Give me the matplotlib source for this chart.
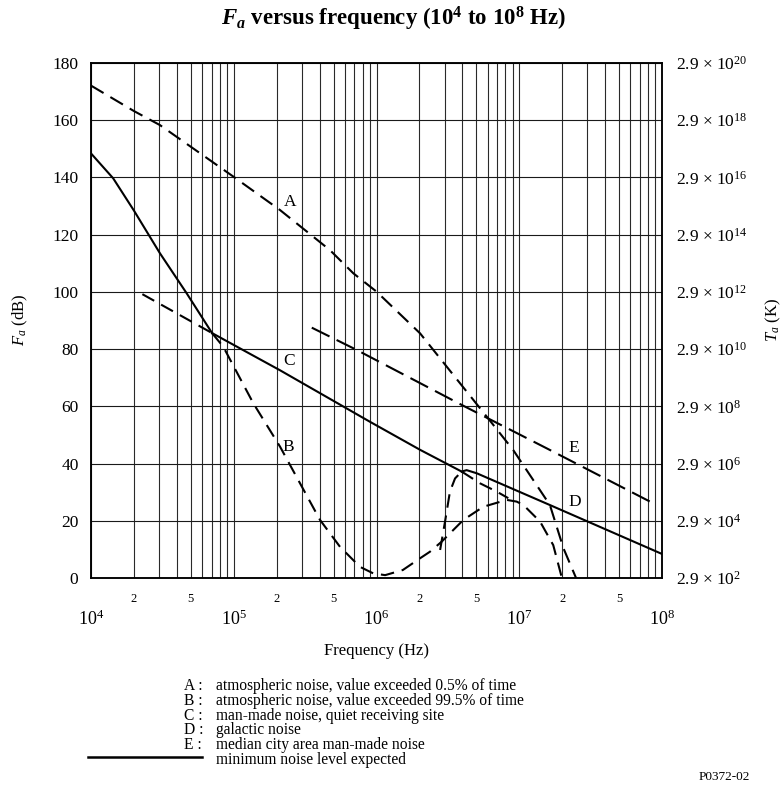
import matplotlib
matplotlib.use("Agg")
import matplotlib.pyplot as plt
from matplotlib.ticker import FixedLocator, FuncFormatter
from matplotlib.lines import Line2D

plt.rcParams['font.family'] = ['Liberation Serif', 'DejaVu Serif']
plt.rcParams['mathtext.fontset'] = 'custom'
plt.rcParams['mathtext.rm'] = 'Liberation Serif'
plt.rcParams['mathtext.it'] = 'Liberation Serif:italic'
plt.rcParams['mathtext.bf'] = 'Liberation Serif:bold'
try:
    plt.rcParams['mathtext.bfit'] = 'Liberation Serif:italic:bold'
except KeyError:
    pass
plt.rcParams['mathtext.fallback'] = 'stix'

# ---------------- data (frequency in Hz, Fa in dB) ----------------
# Curve A: atmospheric noise, 0.5 %
A_f = [1e4, 2.0e4, 3.04e4, 9.93e4, 2.11e5, 4.72e5, 6.88e5, 1.0e6, 2.02e6,
       3.10e6, 5.92e6, 9.08e6, 1.64e7, 2.04e7, 2.5e7]
A_F = [172.1, 163.2, 158.3, 140.3, 128.6, 114.6, 106.5, 100.1, 85.5,
       73.9, 56.4, 44.7, 25.5, 10.4, 0.0]

# Curve B: atmospheric noise, 99.5 % (solid part above C, dashed below)
B_solid_f = [1e4, 1.43e4, 2.0e4, 3.04e4, 4.68e4, 7.05e4]
B_solid_F = [148.4, 139.7, 128.4, 113.5, 99.5, 85.6]
B_dash_f = [7.05e4, 8.45e4, 1.37e5, 2.11e5, 4.02e5, 5.55e5, 7.66e5, 9.5e5,
            1.15e6, 1.53e6, 2.02e6, 2.37e6, 2.86e6, 4.06e6, 5.6e6, 8.17e6,
            9.6e6, 1.07e7, 1.40e7, 1.73e7, 1.99e7]
B_dash_F = [85.6, 80.8, 61.1, 45.9, 20.3, 10.9, 3.9, 1.6,
            1.0, 2.8, 6.9, 9.2, 12.7, 20.3, 24.9, 27.3,
            26.7, 25.5, 19.7, 11.5, 0.0]

# Curve C: man-made noise, quiet receiving site
C_low_f = [2.29e4, 7.05e4]
C_low_F = [99.2, 85.6]
C_solid_f = [7.05e4, 2.11e5, 9.0e5, 2.02e6, 3.95e6]
C_solid_F = [85.6, 72.6, 54.6, 44.8, 37.2]
C_high_f = [3.95e6, 5.31e6, 6.95e6, 8.38e6]
C_high_F = [37.2, 33.1, 30.2, 27.9]

# Curve D: galactic noise (dashed rise, then solid)
D_rise_f = [2.79e6, 3.02e6, 3.27e6, 3.55e6, 3.95e6]
D_rise_F = [9.8, 19.7, 30.2, 34.8, 37.2]
D_solid_f = [3.95e6, 4.28e6, 5.04e6, 1.64e7, 1e8]
D_solid_F = [37.2, 37.7, 36.6, 25.5, 8.4]

# Curve E: median city area man-made noise
E_f = [3.52e5, 7.27e5, 3.95e6, 1.56e7, 8.24e7]
E_F = [87.5, 79.7, 60.5, 45.3, 26.7]

# curve letters (freq, Fa)
labels = ['A', 'B', 'C', 'D', 'E']
label_f = [2.48e5, 2.41e5, 2.45e5, 2.46e7, 2.42e7]
label_F = [131.3, 45.9, 75.8, 26.7, 45.3]

yticks = list(range(0, 181, 20))
right_exp = [2, 4, 6, 8, 10, 12, 14, 16, 18, 20]
decades = [1e4, 1e5, 1e6, 1e7, 1e8]
dec_labels = [r'$10^{4}$', r'$10^{5}$', r'$10^{6}$', r'$10^{7}$', r'$10^{8}$']

legend_keys = ['A :', 'B :', 'C :', 'D :', 'E :']
legend_text = ['atmospheric noise, value exceeded 0.5% of time',
               'atmospheric noise, value exceeded 99.5% of time',
               'man-made noise, quiet receiving site',
               'galactic noise',
               'median city area man-made noise',
               'minimum noise level expected']

# ---------------- figure ----------------
W, H = 782, 786
fig = plt.figure(figsize=(W / 100, H / 100), dpi=100)
L, R, T, Bt = 91, 662, 63, 578
ax = fig.add_axes([L / W, 1 - Bt / H, (R - L) / W, (Bt - T) / H])
ax.set_xscale('log')
ax.set_xlim(1e4, 1e8)
ax.set_ylim(0, 180)

lw = 1.5
dashA = (7, 3.8)
dashB = (6.5, 3.8)
dashE = (9.5, 3.8)
ax.plot(A_f, A_F, color='black', lw=lw, dashes=dashA, zorder=3)
ax.plot(B_solid_f, B_solid_F, color='black', lw=lw, zorder=3)
ax.plot(B_dash_f, B_dash_F, color='black', lw=lw, dashes=dashB, zorder=3)
ax.plot(C_low_f, C_low_F, color='black', lw=lw, dashes=dashB, zorder=3)
ax.plot(C_solid_f, C_solid_F, color='black', lw=lw, zorder=3)
ax.plot(C_high_f, C_high_F, color='black', lw=lw, dashes=dashB, zorder=3)
ax.plot(D_rise_f, D_rise_F, color='black', lw=lw, dashes=dashB, zorder=3)
ax.plot(D_solid_f, D_solid_F, color='black', lw=lw, zorder=3,
        solid_joinstyle='round')
ax.plot(E_f, E_F, color='black', lw=lw, dashes=dashE, zorder=3)

for s, f, v in zip(labels, label_f, label_F):
    ax.text(f, v, s, fontsize=12.5, ha='center', va='center', zorder=4)


def minor_fmt(v, p):
    e = int(f'{v:e}'.split('e')[1])
    m = round(v / 10 ** e)
    return str(m) if m in (2, 5) else ''


ax.xaxis.set_major_locator(FixedLocator(decades))
minor = [m * d for d in decades[:-1] for m in range(2, 10)]
ax.xaxis.set_minor_locator(FixedLocator(minor))
ax.set_xticklabels(dec_labels)
ax.xaxis.set_minor_formatter(FuncFormatter(minor_fmt))
ax.set_yticks(yticks)
ax.grid(True, which='both', axis='x', color='#2a2a2a', lw=0.8)
ax.grid(True, which='major', axis='y', color='#1a1a1a', lw=0.8)
ax.set_axisbelow(True)
ax.tick_params(axis='x', which='major', length=0, pad=23, labelsize=13)
ax.tick_params(axis='x', which='minor', length=0, pad=11, labelsize=9)
ax.tick_params(axis='y', length=0, pad=9, labelsize=12.5)
for sp in ax.spines.values():
    sp.set_linewidth(1.1)

ax2 = ax.twinx()
ax2.set_ylim(0, 180)
ax2.set_yticks(yticks)
ax2.set_yticklabels(['2.9 \u00d7 10$^{%d}$' % e for e in right_exp])
ax2.tick_params(axis='y', length=0, pad=10, labelsize=12.5)
for sp in ax2.spines.values():
    sp.set_linewidth(1.1)

ax.set_xlabel('Frequency (Hz)', fontsize=12, labelpad=10)
fig.text(20 / W, 1 - 320 / H, r'$F_a$ (dB)', rotation=90, fontsize=12,
         ha='center', va='center')
fig.text(773 / W, 1 - 320 / H, r'$T_a$ (K)', rotation=90, fontsize=12,
         ha='center', va='center')

fig.text(393 / W, 1 - 19 / H,
         r'$\mathbfit{F}_{\mathbfit{a}}$ versus frequency (10$^{\mathbf{4}}$ to 10$^{\mathbf{8}}$ Hz)',
         fontsize=16.5, fontweight='bold', ha='center', va='center')

ys = [686 + 14.8 * i for i in range(6)]
for k, y in zip(legend_keys, ys[:5]):
    fig.text(184 / W, 1 - y / H, k, fontsize=11.2, ha='left', va='center')
for t, y in zip(legend_text, ys):
    fig.text(216 / W, 1 - y / H, t, fontsize=11.2, ha='left', va='center')
fig.add_artist(Line2D([88 / W, 202 / W], [1 - 757 / H, 1 - 757 / H],
                      color='black', lw=1.8, transform=fig.transFigure))
fig.text(724 / W, 1 - 777 / H, 'P0372-02', fontsize=9.5, ha='center', va='center')

fig.savefig('out.png', dpi=100)
